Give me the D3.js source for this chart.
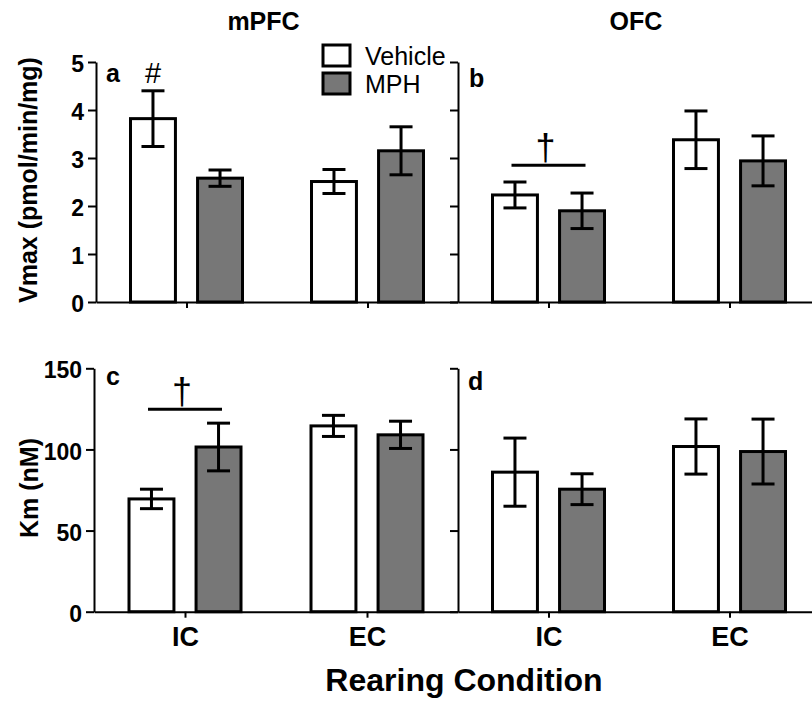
<!DOCTYPE html>
<meta charset="utf-8">
<style>
body { margin: 0; background: #fff; }
svg { font-family: "Liberation Sans", Arial, sans-serif; }
.axis path, .axis line { stroke: #000; stroke-width: 2px; }
.axis text { font-size: 23px; font-weight: bold; fill: #000; }
.xaxis text { font-size: 27px; }
.bar { stroke: #000; stroke-width: 3px; }
.err { stroke: #000; stroke-width: 3px; fill: none; }
.title { font-size: 25px; font-weight: bold; }
.letter { font-size: 25px; font-weight: bold; }
.legend text { font-size: 25px; }
</style>

<div id="chart"></div>

<script src="https://cdnjs.cloudflare.com/ajax/libs/d3/7.8.5/d3.min.js"></script>
<script>

var groups = ["IC", "EC"]
var series = ["Vehicle", "MPH"]
var fills = ["#fff", "#777"]

// Vmax (pmol/min/mg), mean and SEM for [IC, EC]
var vmaxMpfcVehicle = [3.82, 2.51], vmaxMpfcVehicleSem = [0.58, 0.25]
var vmaxMpfcMph = [2.58, 3.15], vmaxMpfcMphSem = [0.17, 0.50]
var vmaxOfcVehicle = [2.23, 3.38], vmaxOfcVehicleSem = [0.27, 0.60]
var vmaxOfcMph = [1.90, 2.94], vmaxOfcMphSem = [0.37, 0.52]

// Km (nM)
var kmMpfcVehicle = [69.5, 114.5], kmMpfcVehicleSem = [6, 6.5]
var kmMpfcMph = [101.5, 109], kmMpfcMphSem = [14.7, 8.4]
var kmOfcVehicle = [86, 101.8], kmOfcVehicleSem = [21, 17]
var kmOfcMph = [75.5, 98.7], kmOfcMphSem = [9.5, 20]

var vmaxTicks = [0, 1, 2, 3, 4, 5]
var kmTicks = [0, 50, 100, 150]

// significance bars: panel, group, level
var sigPanels = ["b", "c"]
var sigGroups = ["IC", "IC"]
var sigLevels = [2.85, 124.7]

var width = 812, height = 702

var svg = d3.select("#chart").append("svg")
    .attr("width", width)
    .attr("height", height)

var yVmax = d3.scaleLinear().domain([0, 5]).range([302, 62])
var yKm = d3.scaleLinear().domain([0, 150]).range([611.7, 368.3])

var panels = [
  {id: "a", x0: 96, x1: 458, y: yVmax, ticks: vmaxTicks, labels: true, bottom: false,
   mean: [vmaxMpfcVehicle, vmaxMpfcMph], sem: [vmaxMpfcVehicleSem, vmaxMpfcMphSem], lx: 106, ly: 82},
  {id: "b", x0: 458, x1: 820, y: yVmax, ticks: vmaxTicks, labels: false, bottom: false,
   mean: [vmaxOfcVehicle, vmaxOfcMph], sem: [vmaxOfcVehicleSem, vmaxOfcMphSem], lx: 469, ly: 87},
  {id: "c", x0: 94, x1: 458, y: yKm, ticks: kmTicks, labels: true, bottom: true,
   mean: [kmMpfcVehicle, kmMpfcMph], sem: [kmMpfcVehicleSem, kmMpfcMphSem], lx: 106, ly: 385},
  {id: "d", x0: 458, x1: 820, y: yKm, ticks: kmTicks, labels: false, bottom: true,
   mean: [kmOfcVehicle, kmOfcMph], sem: [kmOfcVehicleSem, kmOfcMphSem], lx: 468, ly: 390}
]

var xs = d3.scaleBand().domain(series).range([-56, 56]).paddingInner(0.33)
var capHalf = 11.5

panels.forEach(function(p) {
  var x = d3.scalePoint().domain(groups).range([p.x0, p.x1]).padding(0.5)
  p.x = x
  var y = p.y
  var g = svg.append("g")

  // bars
  var rows = []
  groups.forEach(function(gr, gi) {
    series.forEach(function(s, si) {
      rows.push({group: gr, series: s, si: si, mean: p.mean[si][gi], sem: p.sem[si][gi]})
    })
  })

  g.selectAll(".bar").data(rows).enter().append("rect")
      .attr("class", "bar")
      .attr("x", function(d) { return x(d.group) + xs(d.series) })
      .attr("width", xs.bandwidth())
      .attr("y", function(d) { return y(d.mean) })
      .attr("height", function(d) { return y(0) - y(d.mean) })
      .attr("fill", function(d) { return fills[d.si] })

  // axes
  var yAxis = d3.axisLeft(y).tickValues(p.ticks).tickSize(8).tickSizeOuter(0).tickPadding(4)
      .tickFormat(p.labels ? d3.format("d") : "")
  g.append("g").attr("class", "axis")
      .attr("transform", "translate(" + p.x0 + ",0)")
      .call(yAxis)
    .selectAll("text").attr("dy", "0.42em")

  var xAxis = d3.axisBottom(x).tickSize(6).tickSizeOuter(0).tickPadding(9)
  if (!p.bottom) xAxis.tickFormat("")
  g.append("g").attr("class", "axis xaxis")
      .attr("transform", "translate(0," + y(0) + ")")
      .call(xAxis)

  // error bars
  var eb = g.selectAll(".eb").data(rows).enter().append("g")
      .attr("class", "err")
      .attr("transform", function(d) { return "translate(" + (x(d.group) + xs(d.series) + xs.bandwidth() / 2) + ",0)" })
  eb.append("line")
      .attr("y1", function(d) { return y(d.mean - d.sem) })
      .attr("y2", function(d) { return y(d.mean + d.sem) })
  eb.append("line")
      .attr("x1", -capHalf).attr("x2", capHalf)
      .attr("y1", function(d) { return y(d.mean + d.sem) })
      .attr("y2", function(d) { return y(d.mean + d.sem) })
  eb.append("line")
      .attr("x1", -capHalf).attr("x2", capHalf)
      .attr("y1", function(d) { return y(d.mean - d.sem) })
      .attr("y2", function(d) { return y(d.mean - d.sem) })

  g.append("text").attr("class", "letter")
      .attr("x", p.lx).attr("y", p.ly)
      .text(p.id)
})

// significance markers
sigPanels.forEach(function(id, i) {
  var p = panels.filter(function(q) { return q.id == id })[0]
  var cx = p.x(sigGroups[i])
  var ly = p.y(sigLevels[i])
  svg.append("line").attr("class", "err")
      .attr("x1", cx - 37).attr("x2", cx + 37)
      .attr("y1", ly).attr("y2", ly)
  svg.append("text")
      .attr("x", cx - 3).attr("y", ly - 5)
      .attr("text-anchor", "middle")
      .style("font-size", "36px")
      .text("\u2020")
})

// "#" over vehicle IC in panel a
var pa = panels[0]
svg.append("text")
    .attr("x", pa.x("IC") + xs("Vehicle") + xs.bandwidth() / 2)
    .attr("y", 83)
    .attr("text-anchor", "middle")
    .style("font-size", "29px")
    .text("#")

// titles
svg.append("text").attr("class", "title").attr("x", 263.5).attr("y", 30)
    .attr("text-anchor", "middle").text("mPFC")
svg.append("text").attr("class", "title").attr("x", 636).attr("y", 30)
    .attr("text-anchor", "middle").text("OFC")
svg.append("text").attr("class", "title")
    .attr("transform", "translate(37,180) rotate(-90)")
    .attr("text-anchor", "middle").text("Vmax (pmol/min/mg)")
svg.append("text").attr("class", "title")
    .attr("transform", "translate(38,488) rotate(-90)")
    .attr("text-anchor", "middle").text("Km (nM)")
svg.append("text").attr("class", "title").attr("x", 464).attr("y", 691)
    .attr("text-anchor", "middle").style("font-size", "32px").text("Rearing Condition")

// legend
var legend = svg.append("g").attr("class", "legend")
    .selectAll("g").data(series).enter().append("g")
    .attr("transform", function(d, i) { return "translate(323," + (45 + i * 28) + ")" })
legend.append("rect")
    .attr("class", "bar")
    .attr("width", 27).attr("height", 21)
    .attr("fill", function(d, i) { return fills[i] })
legend.append("text")
    .attr("x", 42).attr("y", 20)
    .text(function(d) { return d })

</script>
